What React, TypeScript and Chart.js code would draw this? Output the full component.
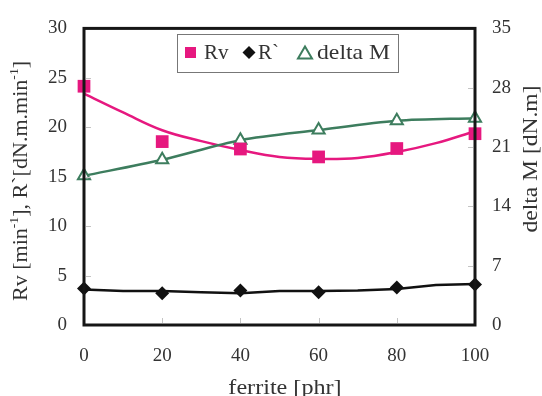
import React, { useEffect, useRef } from "react";
import { Chart, registerables } from "chart.js";

Chart.register(...registerables);

// ---- data ----
const ferrite = [0, 20, 40, 60, 80, 100];
const rvValues = [24.15, 18.55, 17.8, 17.0, 17.85, 19.35];
const rPrimeValues = [3.7, 3.2, 3.5, 3.3, 3.8, 4.1];
const deltaMValues = [17.6, 19.5, 21.8, 23.0, 24.1, 24.4];
const trendX = [0, 10, 20, 30, 40, 50, 60, 70, 80, 90, 100];
const rvTrend = [23.4, 21.5, 19.7, 18.6, 17.7, 17.0, 16.8, 16.9, 17.5, 18.4, 19.6];
const rPrimeTrend = [3.6, 3.45, 3.45, 3.3, 3.2, 3.45, 3.45, 3.5, 3.65, 4.05, 4.15];
const legendLabels = ["Rv", "R`", "delta M"];
const xTitle = "ferrite [phr]";
const rightTitle = "delta M [dN.m]";
const leftTitleParts = [
  { t: "Rv [min", sup: false },
  { t: "-1", sup: true },
  { t: "], R`[dN.m.min", sup: false },
  { t: "-1", sup: true },
  { t: "]", sup: false },
];

const PINK = "#e6187f";
const GREEN = "#3d7d5e";
const BLACK = "#111111";
const TEXT = "#333333";
const SERIF = '"Liberation Serif", "Times New Roman", serif';

function drawRich(
  ctx: CanvasRenderingContext2D,
  parts: { t: string; sup: boolean }[],
  cx: number,
  cy: number,
  rot: number,
  size: number,
  stretch: number
) {
  ctx.save();
  ctx.translate(cx, cy);
  ctx.rotate(rot);
  ctx.scale(stretch, 1);
  const big = `${size}px ${SERIF}`;
  const small = `${Math.round(size * 0.62)}px ${SERIF}`;
  let total = 0;
  for (const p of parts) {
    ctx.font = p.sup ? small : big;
    total += ctx.measureText(p.t).width;
  }
  let x = -total / 2;
  const base = size * 0.32;
  ctx.textAlign = "left";
  ctx.textBaseline = "alphabetic";
  ctx.fillStyle = TEXT;
  for (const p of parts) {
    ctx.font = p.sup ? small : big;
    ctx.fillText(p.t, x, p.sup ? base - size * 0.42 : base);
    x += ctx.measureText(p.t).width;
  }
  ctx.restore();
}

const decorPlugin = {
  id: "decor",
  afterDatasetsDraw(chart: any) {
    const { ctx, chartArea: a, scales } = chart;
    ctx.save();
    ctx.strokeStyle = "#c4c4c4";
    ctx.lineWidth = 1;
    for (const v of [5, 10, 15, 20, 25]) {
      const y = Math.round(scales.y.getPixelForValue(v)) + 0.5;
      ctx.beginPath(); ctx.moveTo(a.left + 2, y); ctx.lineTo(a.left + 7, y); ctx.stroke();
    }
    for (const v of [7, 14, 21, 28]) {
      const y = Math.round(scales.y1.getPixelForValue(v)) + 0.5;
      ctx.beginPath(); ctx.moveTo(a.right - 7, y); ctx.lineTo(a.right - 2, y); ctx.stroke();
    }
    for (const v of [20, 40, 60, 80]) {
      const x = Math.round(scales.x.getPixelForValue(v)) + 0.5;
      ctx.beginPath(); ctx.moveTo(x, a.bottom - 7); ctx.lineTo(x, a.bottom - 2); ctx.stroke();
    }
    ctx.strokeStyle = "#161616";
    ctx.lineWidth = 3;
    ctx.strokeRect(a.left, a.top, a.right - a.left, a.bottom - a.top);
    ctx.restore();
  },
  afterDraw(chart: any) {
    const { ctx } = chart;
    ctx.save();
    drawRich(ctx, [{ t: xTitle, sup: false }], 285, 387, 0, 21, 1.15);
    drawRich(ctx, leftTitleParts, 20, 181, -Math.PI / 2, 21, 1.05);
    drawRich(ctx, [{ t: rightTitle, sup: false }], 530, 159, -Math.PI / 2, 21, 1.12);

    // legend
    const bx = 177, by = 34, bw = 221, bh = 38;
    ctx.fillStyle = "#ffffff";
    ctx.fillRect(bx, by, bw, bh);
    ctx.strokeStyle = "#777777";
    ctx.lineWidth = 1;
    ctx.strokeRect(bx + 0.5, by + 0.5, bw, bh);
    const cy = 52.5;
    ctx.fillStyle = PINK;
    ctx.fillRect(185, cy - 5.5, 11, 11);
    ctx.fillStyle = BLACK;
    ctx.beginPath();
    ctx.moveTo(249, cy - 6.5); ctx.lineTo(255.5, cy); ctx.lineTo(249, cy + 6.5); ctx.lineTo(242.5, cy);
    ctx.closePath(); ctx.fill();
    ctx.strokeStyle = GREEN;
    ctx.lineWidth = 2;
    ctx.beginPath();
    ctx.moveTo(305, cy - 6); ctx.lineTo(312, cy + 6); ctx.lineTo(298, cy + 6);
    ctx.closePath(); ctx.stroke();
    ctx.fillStyle = TEXT;
    ctx.font = `21px ${SERIF}`;
    ctx.textAlign = "left";
    ctx.textBaseline = "alphabetic";
    ctx.fillText(legendLabels[0], 204, 59);
    ctx.fillText(legendLabels[1], 258, 59);
    ctx.translate(317, 59);
    ctx.scale(1.13, 1);
    ctx.fillText(legendLabels[2], 0, 0);
    ctx.restore();
  },
};

export default function App() {
  const ref = useRef<HTMLCanvasElement | null>(null);
  useEffect(() => {
    if (!ref.current) return;
    const xy = (xs: number[], ys: number[]) => xs.map((x, i) => ({ x, y: ys[i] }));
    const tickFont = { family: SERIF, size: 19 };
    const chart = new Chart(ref.current, {
      type: "line",
      data: {
        datasets: [
          {
            label: legendLabels[0],
            data: xy(ferrite, rvValues),
            showLine: false,
            pointStyle: "rect",
            pointRadius: 9,
            pointBackgroundColor: PINK,
            pointBorderColor: PINK,
            pointBorderWidth: 0,
            yAxisID: "y",
            order: 1,
            clip: false,
          },
          {
            label: "Rv trend",
            data: xy(trendX, rvTrend),
            borderColor: PINK,
            borderWidth: 2.5,
            pointRadius: 0,
            tension: 0.4,
            yAxisID: "y",
            order: 5,
            clip: false,
          },
          {
            label: legendLabels[1],
            data: xy(ferrite, rPrimeValues),
            showLine: false,
            pointStyle: "rectRot",
            pointRadius: 7,
            pointBackgroundColor: BLACK,
            pointBorderColor: BLACK,
            pointBorderWidth: 0,
            yAxisID: "y",
            order: 2,
            clip: false,
          },
          {
            label: "R` trend",
            data: xy(trendX, rPrimeTrend),
            borderColor: BLACK,
            borderWidth: 2.5,
            pointRadius: 0,
            tension: 0,
            yAxisID: "y",
            order: 6,
            clip: false,
          },
          {
            label: legendLabels[2],
            data: xy(ferrite, deltaMValues),
            borderColor: GREEN,
            borderWidth: 2.5,
            tension: 0.3,
            pointStyle: "triangle",
            pointRadius: 7,
            pointBorderWidth: 2,
            pointBorderColor: GREEN,
            pointBackgroundColor: "#ffffff",
            yAxisID: "y1",
            order: 3,
            clip: false,
          },
        ],
      },
      options: {
        responsive: false,
        animation: false,
        devicePixelRatio: 1,
        layout: { padding: { top: 25, left: 0, right: 0, bottom: 0 } },
        plugins: { legend: { display: false }, tooltip: { enabled: false } },
        scales: {
          x: {
            type: "linear",
            min: 0,
            max: 100,
            grid: { display: false, drawTicks: false },
            border: { display: false },
            ticks: { stepSize: 20, font: tickFont, color: TEXT, padding: 20, maxRotation: 0 },
            afterFit: (s: any) => { s.height = 71; },
          },
          y: {
            position: "left",
            min: 0,
            max: 30,
            grid: { display: false, drawTicks: false },
            border: { display: false },
            ticks: { stepSize: 5, font: tickFont, color: TEXT, padding: 17 },
            afterFit: (s: any) => { s.width = 84; },
          },
          y1: {
            position: "right",
            min: 0,
            max: 35,
            grid: { display: false, drawTicks: false },
            border: { display: false },
            ticks: { stepSize: 7, font: tickFont, color: TEXT, padding: 17 },
            afterFit: (s: any) => { s.width = 67; },
          },
        },
      } as any,
      plugins: [decorPlugin],
    });
    return () => chart.destroy();
  }, []);
  return (
    <div style={{ position: "absolute", left: 0, top: 0, width: 542, height: 396, background: "#ffffff" }}>
      <canvas ref={ref} width={542} height={396} style={{ display: "block" }} />
    </div>
  );
}
